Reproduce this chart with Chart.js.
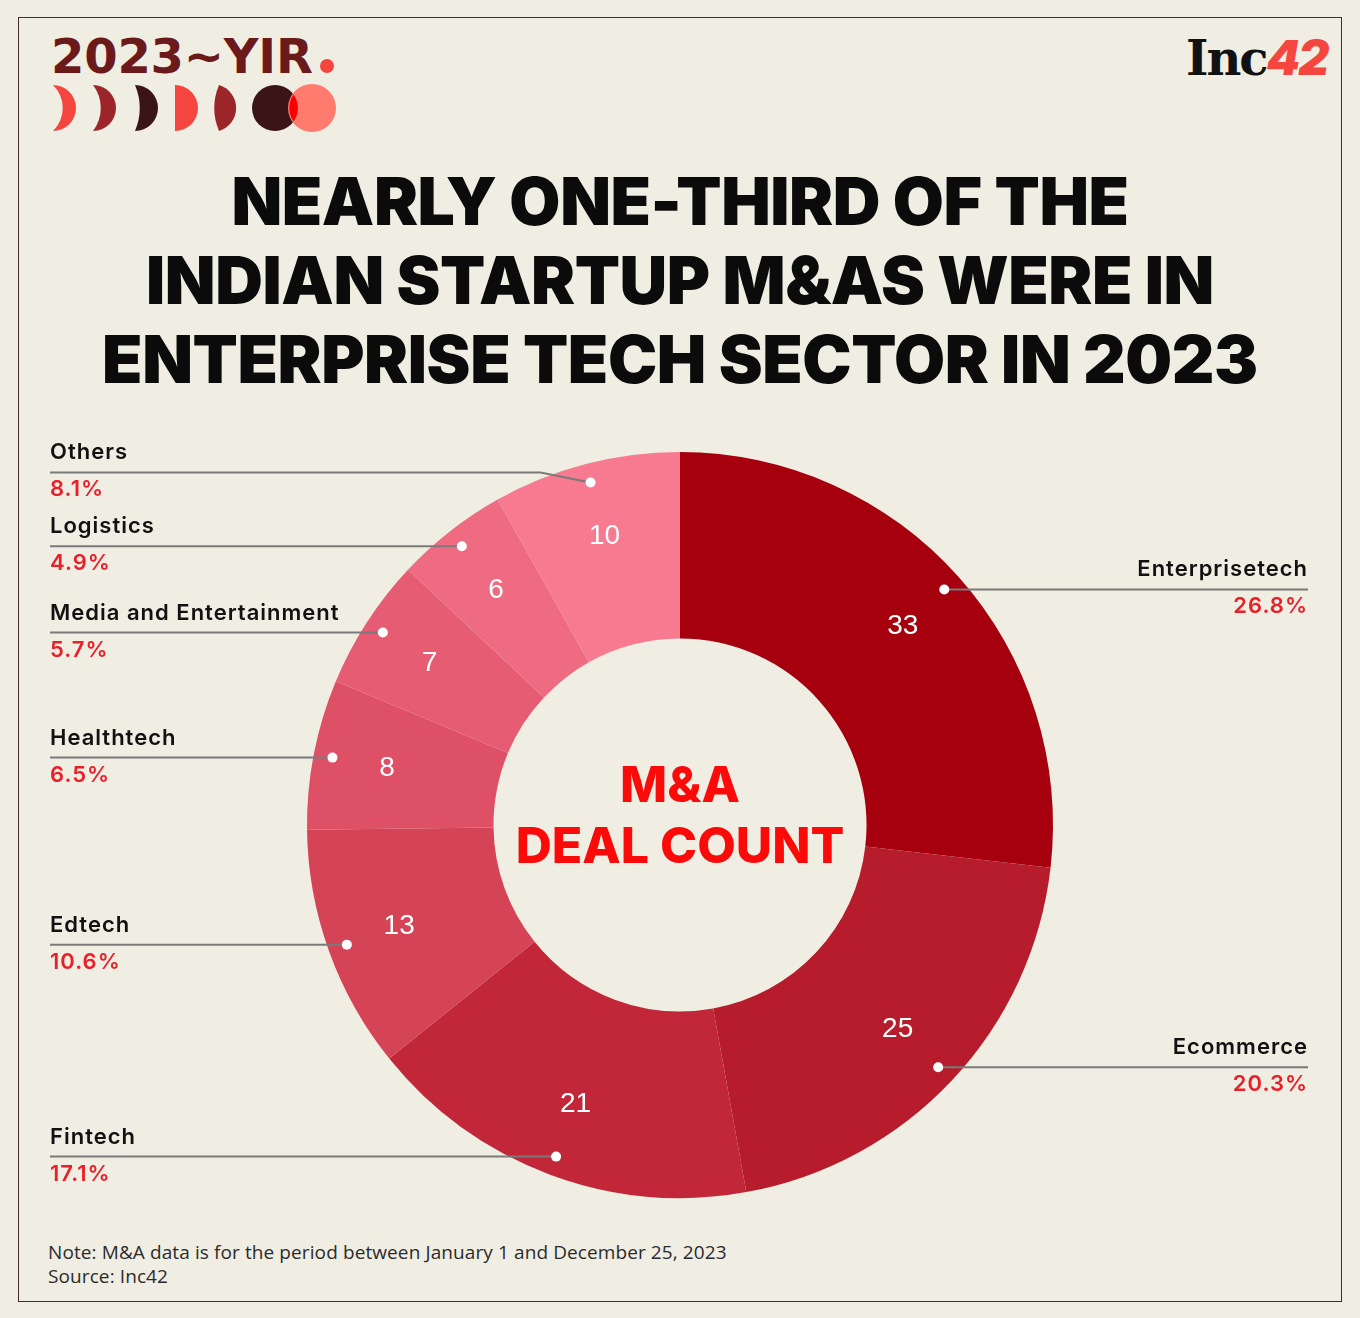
<!DOCTYPE html>
<html>
<head>
<meta charset="utf-8">
<script src="https://cdn.jsdelivr.net/npm/chart.js@4"></script>
<style>
  body { margin: 0; background: #f0ede3; width: 1360px; height: 1318px; position: relative; overflow: hidden; }
  .frame { position: absolute; left: 18px; top: 17px; width: 1322px; height: 1283px; border: 1px solid #4a2a26; }
  .yir { position: absolute; left: 51px; top: 28px; font: bold 48px "DejaVu Sans"; color: #6b1a1c; letter-spacing: -0.2px; }
  .inc { position: absolute; left: 1186px; top: 28px; font: 700 48px "DejaVu Serif"; color: #111; letter-spacing: -2px; }
  .inc span { color: #f4463f; font: italic 900 48px "Inter"; }
  .title { position: absolute; left: 0; top: 162px; width: 1360px; text-align: center; font: 900 66px/79px "Inter"; color: #0b0b0b; letter-spacing: -0.4px; }
  .note { position: absolute; left: 48px; top: 1240px; font: 19px/24px "Open Sans"; color: #2b2b2b; letter-spacing: 0.1px; }
  canvas { position: absolute; left: 20px; top: 420px; }
</style>
</head>
<body>
<div class="frame"></div>
<div class="yir">2023~YIR</div>
<svg style="position:absolute;left:0;top:0" width="360" height="140">
  <circle cx="327" cy="66" r="7" fill="#f4463f"/>
  <path d="M53,85 A23,23 0 0 1 53,131 A32,32 0 0 0 53,85 Z" fill="#f4463f"/>
  <path d="M93,85 A23,23 0 0 1 93,131 A38,38 0 0 0 93,85 Z" fill="#9b2528"/>
  <path d="M135,85 A23,23 0 0 1 135,131 A60,60 0 0 0 135,85 Z" fill="#3a1416"/>
  <path d="M175,85 A23,23 0 0 1 175,131 Z" fill="#f4463f"/>
  <path d="M219,85 A24,24 0 0 1 219,131 A60,60 0 0 1 219,85 Z" fill="#9b2528"/>
  <circle cx="275" cy="108" r="23" fill="#3a1416"/>
  <circle cx="312" cy="108" r="24" fill="#ff7b6e"/>
  <path d="M293.5,94.5 A23,23 0 0 1 293.5,121.5 A24,24 0 0 1 293.5,94.5 Z" fill="#f80000"/>
</svg>
<div class="inc">Inc<span>42</span></div>
<div class="title">NEARLY ONE-THIRD OF THE<br>INDIAN STARTUP M&amp;AS WERE IN<br>ENTERPRISE TECH SECTOR IN 2023</div>
<canvas id="deals-diagram" width="1320" height="810"></canvas>
<div class="note">Note: M&amp;A data is for the period between January 1 and December 25, 2023<br>Source: Inc42</div>

<script>
const sectors = [
  "Enterprisetech",
  "Ecommerce",
  "Fintech",
  "Edtech",
  "Healthtech",
  "Media and Entertainment",
  "Logistics",
  "Others",
];
const dealCounts = [33, 25, 21, 13, 8, 7, 6, 10];
const sectorColors = [
  "#a6000f",
  "#b61c2b",
  "#c12738",
  "#d44356",
  "#dd5066",
  "#e65c73",
  "#ef6b82",
  "#f77a91",
];

// only "Others" has its line bent up a bit
const lineNudge = { Others: -10 };

const totalDeals = dealCounts.reduce((a, b) => a + b, 0);

const calloutPlugin = {
  id: "callouts",
  afterDatasetsDraw(chart) {
    const ctx = chart.ctx;
    const arcs = chart.getDatasetMeta(0).data;
    const leftX = 30;
    const rightX = chart.width - 32;

    ctx.save();
    arcs.forEach((arc, i) => {
      const p = arc.getProps(["x", "y", "startAngle", "endAngle", "innerRadius", "outerRadius"], true);
      const mid = (p.startAngle + p.endAngle) / 2;

      // value inside the ring
      const vr = p.innerRadius + (p.outerRadius - p.innerRadius) * 0.6;
      ctx.letterSpacing = "0px";
      ctx.fillStyle = "#ffffff";
      ctx.font = '28px "Liberation Sans"';
      ctx.textAlign = "center";
      ctx.textBaseline = "middle";
      ctx.fillText(dealCounts[i], p.x + Math.cos(mid) * vr, p.y + Math.sin(mid) * vr);

      // leader line + dot
      const dr = p.outerRadius - 19;
      const dx = p.x + Math.cos(mid) * dr;
      const dy = p.y + Math.sin(mid) * dr;
      const isLeft = dx < p.x;
      const ly = dy + (lineNudge[sectors[i]] || 0);
      const endX = isLeft ? leftX : rightX;

      ctx.strokeStyle = "#7a7a7a";
      ctx.lineWidth = 2;
      ctx.beginPath();
      ctx.moveTo(endX, ly);
      if (ly !== dy) {
        ctx.lineTo(dx - 50, ly);
      }
      ctx.lineTo(dx, dy);
      ctx.stroke();

      ctx.fillStyle = "#ffffff";
      ctx.beginPath();
      ctx.arc(dx, dy, 5, 0, Math.PI * 2);
      ctx.fill();

      // label text
      ctx.textAlign = isLeft ? "left" : "right";
      ctx.textBaseline = "alphabetic";
      ctx.letterSpacing = "1px";
      ctx.fillStyle = "#111111";
      ctx.font = '600 22px "Inter"';
      ctx.fillText(sectors[i], endX, ly - 13);
      ctx.fillStyle = "#e8202a";
      ctx.fillText(((dealCounts[i] / totalDeals) * 100).toFixed(1) + "%", endX, ly + 24);
    });

    // centre caption
    const c = arcs[0];
    ctx.letterSpacing = "0px";
    ctx.fillStyle = "#fb0a0a";
    ctx.textAlign = "center";
    ctx.textBaseline = "middle";
    ctx.font = '800 50px "Inter"';
    ctx.fillText("M&A", c.x, c.y - 38);
    ctx.fillText("DEAL COUNT", c.x, c.y + 23);
    ctx.restore();
  },
};

new Chart(document.getElementById("deals-diagram").getContext("2d"), {
  type: "doughnut",
  data: {
    labels: sectors,
    datasets: [
      {
        label: "M&A deal count",
        data: dealCounts,
        backgroundColor: sectorColors,
        borderWidth: 0,
        hoverOffset: 0,
        offset: 0,
      },
    ],
  },
  options: {
    responsive: false,
    animation: false,
    events: [],
    cutout: "50%",
    layout: { padding: { top: 32, bottom: 32 } },
    plugins: {
      legend: { display: false },
      tooltip: { enabled: false },
    },
  },
  plugins: [calloutPlugin],
});
</script>
</body>
</html>
